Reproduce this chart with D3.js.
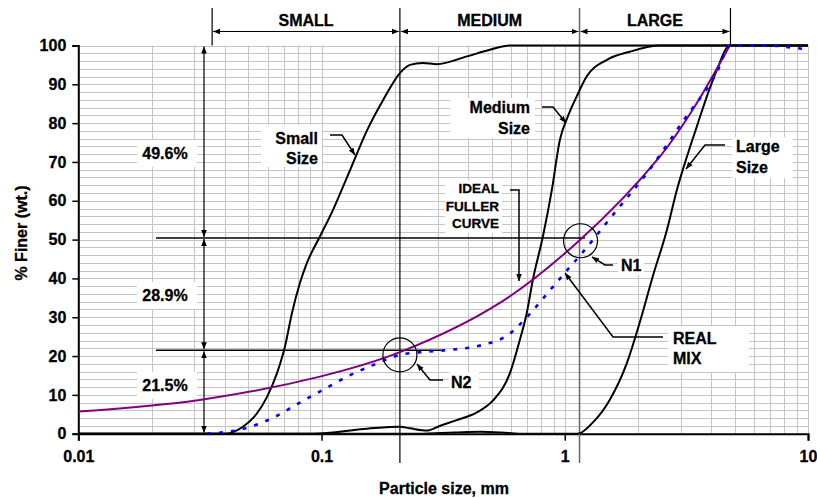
<!DOCTYPE html>
<html><head><meta charset="utf-8">
<script src="https://cdn.jsdelivr.net/npm/d3@7"></script>
<style>
html,body{margin:0;padding:0;background:#fff;}
svg{display:block;font-family:"Liberation Sans",Arial,sans-serif;font-weight:bold;}
svg text{stroke:#000;stroke-width:0.3px;}
</style></head>
<body>
<svg id="c" width="817" height="498"></svg>
<script>
// ---- data ----
const xTicks = [0.01, 0.1, 1, 10];
const xTickLabels = ["0.01", "0.1", "1", "10"];
const yTicks = [0,10,20,30,40,50,60,70,80,90,100];

const smallSize = [[0.01,0],[0.0401,0],[0.0475,1.8],[0.0542,5.2],[0.0597,9.5],[0.0656,15.6],[0.0707,22.4],[0.0756,31.1],[0.0815,38.8],[0.0871,44],[0.0985,50.8],[0.1114,57.6],[0.131,67.9],[0.154,78.2],[0.179,85.9],[0.210,92.9],[0.231,95],[0.261,95.5],[0.298,95.2],[0.396,97.2],[0.492,98.9],[0.595,100],[10,100]];
const mediumSize = [[0.01,0],[0.0925,0],[0.154,1.3],[0.21,1.8],[0.231,1.4],[0.271,0.8],[0.306,2],[0.360,3.5],[0.435,5.5],[0.506,8.5],[0.595,15.6],[0.653,24.1],[0.698,31.1],[0.739,39.6],[0.813,50.8],[0.885,62.8],[0.955,75.7],[1.029,81.7],[1.12,86.9],[1.23,92],[1.49,96.3],[1.85,98.4],[2.46,100],[10,100]];
const largeSize = [[0.01,0],[0.25,0],[0.35,0.3],[0.45,0.5],[0.55,0.3],[0.65,0],[1.13,0],[1.30,2.8],[1.53,8.7],[1.80,18.2],[2.03,28.5],[2.30,40.5],[2.63,52.5],[2.89,62.8],[3.18,71.4],[3.49,79.1],[3.84,86.9],[4.22,93.7],[4.68,99.7],[4.8,100],[10,100]];
const fullerCurve = [[0.01,5.7],[0.0316,8.7],[0.0985,14.7],[0.21,21.0],[0.541,33.7],[1.154,49.9],[2.46,71.4],[3.36,83.5],[4.77,100]];
const realMix = [[0.0338,0],[0.0493,1.5],[0.0627,4],[0.0793,7.6],[0.1014,11.3],[0.1274,14.7],[0.163,17.7],[0.21,20.3],[0.266,21.1],[0.337,21.6],[0.461,22.9],[0.583,25.4],[0.705,30.3],[0.844,36],[1.0,41.4],[1.177,46.5],[1.579,56.4],[2.199,67.5],[3.063,80.5],[4.226,93.2],[4.78,100],[7.0,100],[8.5,99.5],[10,99]];

const boundaries = [0.0355, 0.21, 1.15, 4.8];
const fractionNames = ["SMALL", "MEDIUM", "LARGE"];
const splitLevels = [50.4, 21.5];
const splitLabels = ["49.6%", "28.9%", "21.5%"];

// ---- chart ----
const svg = d3.select("#c");
const x = d3.scaleLog().domain([0.01, 10]).range([78.3, 808]);
const y = d3.scaleLinear().domain([0, 100]).range([433.7, 45.5]);
const FS = 16;

const defs = svg.append("defs");
defs.append("marker").attr("id", "arr").attr("viewBox","0 0 10 10").attr("refX",10).attr("refY",5)
  .attr("markerWidth",7).attr("markerHeight",7).attr("markerUnits","userSpaceOnUse").attr("orient","auto-start-reverse")
  .append("path").attr("d","M0,1 L10,5 L0,9 Z").attr("fill","#000");
defs.append("clipPath").attr("id","clip").append("rect")
  .attr("x", x(0.01)).attr("y", y(100)-2).attr("width", x(10)-x(0.01)).attr("height", y(0)-y(100)+2);

// grid
const g = svg.append("g");
const minor = [];
for (let e=-2; e<1; e++) for (let m=1; m<=9; m++) minor.push(m*Math.pow(10,e));
minor.push(10);
g.selectAll(".vg").data(minor).join("line")
  .attr("x1", d=>Math.round(x(d))+0.5).attr("x2", d=>Math.round(x(d))+0.5)
  .attr("y1", y(0)).attr("y2", y(100)).attr("stroke","#c4c4c4").attr("stroke-width",1);
const hg = d3.range(0, 101, 2);
g.selectAll(".hg").data(hg).join("line")
  .attr("x1", x(0.01)).attr("x2", x(10))
  .attr("y1", d=>Math.round(y(d))+0.5).attr("y2", d=>Math.round(y(d))+0.5)
  .attr("stroke","#c4c4c4").attr("stroke-width",1);

// axes
const yAxis = d3.axisLeft(y).tickValues(yTicks).tickSize(6).tickPadding(6);
const ya = svg.append("g").attr("transform",`translate(${x(0.01)},0)`).call(yAxis);
ya.select(".domain").attr("stroke","#000").attr("stroke-width",2);
ya.selectAll(".tick line").attr("stroke","#000").attr("stroke-width",1.5);
ya.selectAll("text").attr("font-size",FS).attr("font-weight","bold").attr("font-family","Liberation Sans, Arial, sans-serif").attr("fill","#000");

const xAxis = d3.axisBottom(x).tickValues(xTicks).tickFormat((d,i)=>xTickLabels[i]).tickSize(7).tickPadding(10);
const xa = svg.append("g").attr("transform",`translate(0,${y(0)})`).call(xAxis);
xa.select(".domain").attr("stroke","#000").attr("stroke-width",2);
xa.selectAll(".tick line").attr("stroke","#000").attr("stroke-width",1.5);
xa.selectAll("text").attr("font-size",FS).attr("font-weight","bold").attr("font-family","Liberation Sans, Arial, sans-serif").attr("fill","#000");

svg.append("text").attr("x",444).attr("y",494).attr("text-anchor","middle").attr("font-size",FS).text("Particle size, mm");
svg.append("text").attr("transform","translate(27,233) rotate(-90)").attr("text-anchor","middle").attr("font-size",FS).text("% Finer (wt.)");

// boundary lines
const bl = svg.append("g");
boundaries.forEach((b,i)=>{
  const inner = (i===1||i===2);
  bl.append("line").attr("x1",x(b)).attr("x2",x(b)).attr("y1",8).attr("y2", inner ? 463 : y(100))
    .attr("stroke", i===2 ? "#666" : "#000").attr("stroke-width", i===2?1.5:1.2);
});
fractionNames.forEach((n,i)=>{
  const x1 = x(boundaries[i]), x2 = x(boundaries[i+1]);
  bl.append("line").attr("x1",x1+1).attr("x2",x2-1).attr("y1",31.5).attr("y2",31.5)
    .attr("stroke","#000").attr("stroke-width",1)
    .attr("marker-start","url(#arr)").attr("marker-end","url(#arr)");
  bl.append("text").attr("x",(x1+x2)/2).attr("y",26).attr("text-anchor","middle").attr("font-size",FS).text(n);
});

// split lines
const levels = [100].concat(splitLevels).concat([0]);
const sx = 204;
splitLevels.forEach((l,i)=>{
  svg.append("line").attr("x1",156).attr("x2", i===0 ? 585 : 441)
    .attr("y1",y(l)).attr("y2",y(l)).attr("stroke","#000").attr("stroke-width",1.5);
});

function box(x0,y0,w,h){ svg.append("rect").attr("x",x0).attr("y",y0).attr("width",w).attr("height",h).attr("fill","#fff"); }

const splitY = [153, 295, 385];
splitLabels.forEach((t,i)=>{
  const cyy = splitY[i];
  box(137, cyy-13, 60, 27);
  svg.append("text").attr("x",165).attr("y",cyy+6).attr("text-anchor","middle").attr("font-size",FS).text(t);
});
for (let i=0;i<3;i++){
  svg.append("line").attr("x1",sx).attr("x2",sx).attr("y1",y(levels[i])+1).attr("y2",y(levels[i+1])-1)
    .attr("stroke","#000").attr("stroke-width",1.2)
    .attr("marker-start","url(#arr)").attr("marker-end","url(#arr)");
}

box(261,125,61,42);   // small size
box(450,98,85,40);    // medium size
box(445,180,57,53);   // ideal
box(732,137,61,41);   // large
box(668,326,81,46);   // real mix
box(618,256,26,19);   // N1
box(449,372,30,17);   // N2

// curves
const line = d3.line().x(d=>x(d[0])).y(d=>y(d[1])).curve(d3.curveMonotoneX);
const smooth = d3.line().x(d=>x(d[0])).y(d=>y(d[1])).curve(d3.curveCatmullRom.alpha(0.5));
const cg = svg.append("g").attr("clip-path","url(#clip)");
[smallSize, mediumSize, largeSize].forEach(s=>{
  cg.append("path").datum(s).attr("d",line).attr("fill","none").attr("stroke","#000").attr("stroke-width",2);
});
cg.append("path").datum(fullerCurve).attr("d",smooth).attr("fill","none").attr("stroke","#800080").attr("stroke-width",2);
cg.append("path").datum(realMix).attr("d",line).attr("fill","none").attr("stroke","#0000ff").attr("stroke-width",2.6).attr("stroke-dasharray","4,8");

// circles
svg.append("circle").attr("cx",x(1.15)+1).attr("cy",y(49.7)).attr("r",17).attr("fill","none").attr("stroke","#000").attr("stroke-width",1.2);
svg.append("circle").attr("cx",x(0.21)).attr("cy",y(20.3)).attr("r",17).attr("fill","none").attr("stroke","#000").attr("stroke-width",1.2);

function lines(tx, ty, arr, anchor, fs, lh){
  const t = svg.append("text").attr("x",tx).attr("y",ty).attr("text-anchor",anchor).attr("font-size",fs);
  arr.forEach((s,i)=> t.append("tspan").attr("x",tx).attr("dy", i===0?0:lh).text(s));
}
lines(318,143.5,["Small","Size"],"end",FS,20);
lines(530,112.7,["Medium","Size"],"end",FS,21);
lines(499,193,["IDEAL","FULLER","CURVE"],"end",13.5,17.5);
lines(736,151.5,["Large","Size"],"start",FS,21);
lines(673,343.7,["REAL","MIX"],"start",FS,20.5);
lines(621,270.7,["N1"],"start",FS,0);
lines(451,387.7,["N2"],"start",FS,0);

function leader(pts){
  svg.append("path").attr("d", d3.line()(pts)).attr("fill","none").attr("stroke","#000").attr("stroke-width",1.5).attr("marker-end","url(#arr)");
}
leader([[330,135],[342,135],[355,155]]);
leader([[542,107],[553,107],[566,123]]);
leader([[510,190],[519,190],[519,281]]);
leader([[725,145],[705,145],[686,169]]);
leader([[613,265],[605,265],[592,257]]);
leader([[443,380],[430,380],[417,364]]);
leader([[663,337],[613,337],[565,273]]);
</script>
</body></html>
